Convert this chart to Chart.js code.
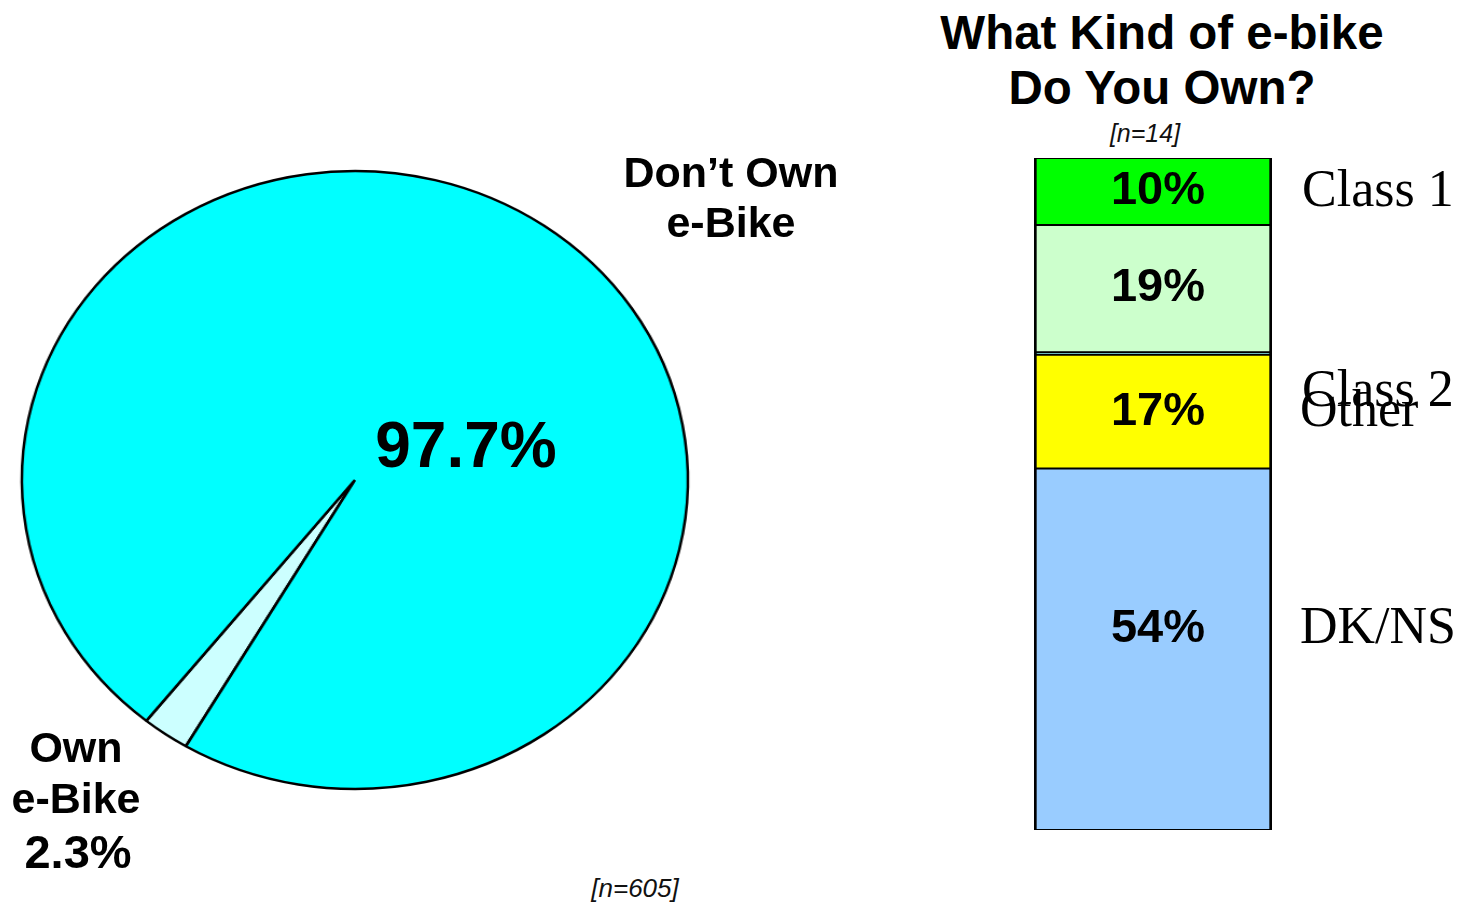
<!DOCTYPE html>
<html>
<head>
<meta charset="utf-8">
<title>e-bike ownership</title>
<script src="https://cdn.jsdelivr.net/npm/chart.js@4.4.1/dist/chart.umd.min.js"></script>
<style>
  body {
    margin: 0;
    width: 1469px;
    height: 904px;
    background: #fff;
    position: relative;
    overflow: hidden;
    font-family: "Liberation Sans", Arial, sans-serif;
  }
  .lbl {
    position: absolute;
    transform: translate(-50%, -50%);
    text-align: center;
    font-weight: bold;
    color: #000;
    white-space: pre;
  }
  .note {
    position: absolute;
    transform: translate(-50%, -50%);
    font-style: italic;
    color: #111;
    white-space: nowrap;
  }
  .cls {
    position: absolute;
    transform: translateY(-50%);
    font-family: "Liberation Serif", "Times New Roman", serif;
    font-size: 52px;
    color: #000;
    white-space: nowrap;
  }
  /* pie is drawn round, then stretched into the ellipse of the original */
  #pieWrap {
    position: absolute;
    left: 10px;
    top: 160px;
    width: 640px;
    height: 640px;
    transform: scaleX(1.0777);
    transform-origin: 0 0;
  }
  #barWrap {
    position: absolute;
    left: 1024px;
    top: 148px;
    width: 258px;
    height: 692px;
  }
</style>
</head>
<body>

<div id="pieWrap"><canvas id="pieChart" width="640" height="640"></canvas></div>
<div id="barWrap"><canvas id="barChart" width="258" height="692"></canvas></div>

<div class="lbl" id="dontOwnLbl" style="left:731px; top:197px; font-size:43px; line-height:50px;"></div>
<div class="lbl" id="bigPct" style="left:466px; top:445px; font-size:64px;"></div>
<div class="lbl" id="ownLbl" style="left:76px; top:773px; font-size:43px; line-height:51px;"></div>
<div class="lbl" id="ownPct" style="left:78px; top:851px; font-size:47px;"></div>
<div class="note" id="pieN" style="left:635px; top:888px; font-size:26px;"></div>

<div class="lbl" id="title" style="left:1162px; top:60px; font-size:47.5px; line-height:55px;"></div>
<div class="note" id="barN" style="left:1145px; top:133px; font-size:25px;"></div>

<div class="cls" style="left:1302px; top:188px;" id="cls0"></div>
<div class="cls" style="left:1302px; top:388px;" id="cls1"></div>
<div class="cls" style="left:1300px; top:408px;" id="cls2"></div>
<div class="cls" style="left:1300px; top:625px;" id="cls4"></div>

<script>
// pie data
const pieLabels = ['Own e-Bike', 'Don\u2019t Own e-Bike'];
const pieValues = [2.3, 97.7];
const pieColors = ['#CCFFFF', '#00FFFF'];
const pieN = 605;

// stacked bar data
const barTitle = 'What Kind of e-bike\nDo You Own?';
const kindLabels = ['Class 1', 'Class 2', 'Other', '17%', 'DK/NS'];
const kindNames = ['Class 1', 'Class 2', 'Other', '', 'DK/NS'];
const kindValues = [10, 19, 0.4, 17, 54];
const kindColors = ['#00FF00', '#CCFFCC', '#66CCCC', '#FFFF00', '#99CCFF'];
const barN = 14;

// texts around the pie
document.getElementById('ownLbl').textContent = 'Own\ne-Bike';
document.getElementById('ownPct').textContent = pieValues[0] + '%';
document.getElementById('dontOwnLbl').textContent = 'Don\u2019t Own\ne-Bike';
document.getElementById('bigPct').textContent = pieValues[1] + '%';
document.getElementById('pieN').textContent = '[n=' + pieN + ']';
document.getElementById('title').textContent = barTitle;
document.getElementById('barN').textContent = '[n=' + barN + ']';
document.getElementById('cls0').textContent = kindNames[0];
document.getElementById('cls1').textContent = kindNames[1];
document.getElementById('cls2').textContent = kindNames[2];
document.getElementById('cls4').textContent = kindNames[4];

new Chart(document.getElementById('pieChart').getContext('2d'), {
    type: 'pie',
    data: {
        labels: pieLabels,
        datasets: [{
            data: pieValues,
            backgroundColor: pieColors,
            borderColor: '#000',
            borderWidth: 2.5
        }]
    },
    options: {
        responsive: false,
        animation: false,
        rotation: 210.5,
        radius: 309,
        plugins: {
            legend: { display: false },
            tooltip: { enabled: false }
        }
    }
});

// percent labels written inside each bar segment (big bottom one sits a bit high, like the original)
const labelShift = [0, 0, 0, 0, -20];
const segmentText = {
    id: 'segmentText',
    afterDatasetsDraw(chart) {
        const ctx = chart.ctx;
        ctx.save();
        ctx.font = 'bold 47px "Liberation Sans", Arial, sans-serif';
        ctx.fillStyle = '#000';
        ctx.textAlign = 'center';
        ctx.textBaseline = 'middle';
        kindValues.forEach((v, i) => {
            if (v < 5) return;
            // datasets are reversed, so dataset index is mirrored
            const bar = chart.getDatasetMeta(kindValues.length - 1 - i).data[0];
            const cy = (bar.y + bar.base) / 2 + labelShift[i];
            ctx.fillText(v + '%', bar.x + 5, cy);
        });
        ctx.restore();
    }
};

const total = kindValues.reduce((a, b) => a + b, 0);

new Chart(document.getElementById('barChart').getContext('2d'), {
    type: 'bar',
    data: {
        labels: ['kind'],
        datasets: kindValues.map((v, i) => ({
            label: kindLabels[i],
            data: [v],
            backgroundColor: kindColors[i],
            borderColor: '#000',
            borderWidth: { left: 3, right: 3, top: 1.3, bottom: 1.3 },
            borderSkipped: false,
            barPercentage: 1,
            categoryPercentage: 1
        })).reverse()
    },
    options: {
        responsive: false,
        animation: false,
        layout: { padding: 10 },
        scales: {
            x: { stacked: true, display: false },
            y: { stacked: true, display: false, min: 0, max: total }
        },
        plugins: {
            legend: { display: false },
            tooltip: { enabled: false }
        }
    },
    plugins: [segmentText]
});
</script>
</body>
</html>
